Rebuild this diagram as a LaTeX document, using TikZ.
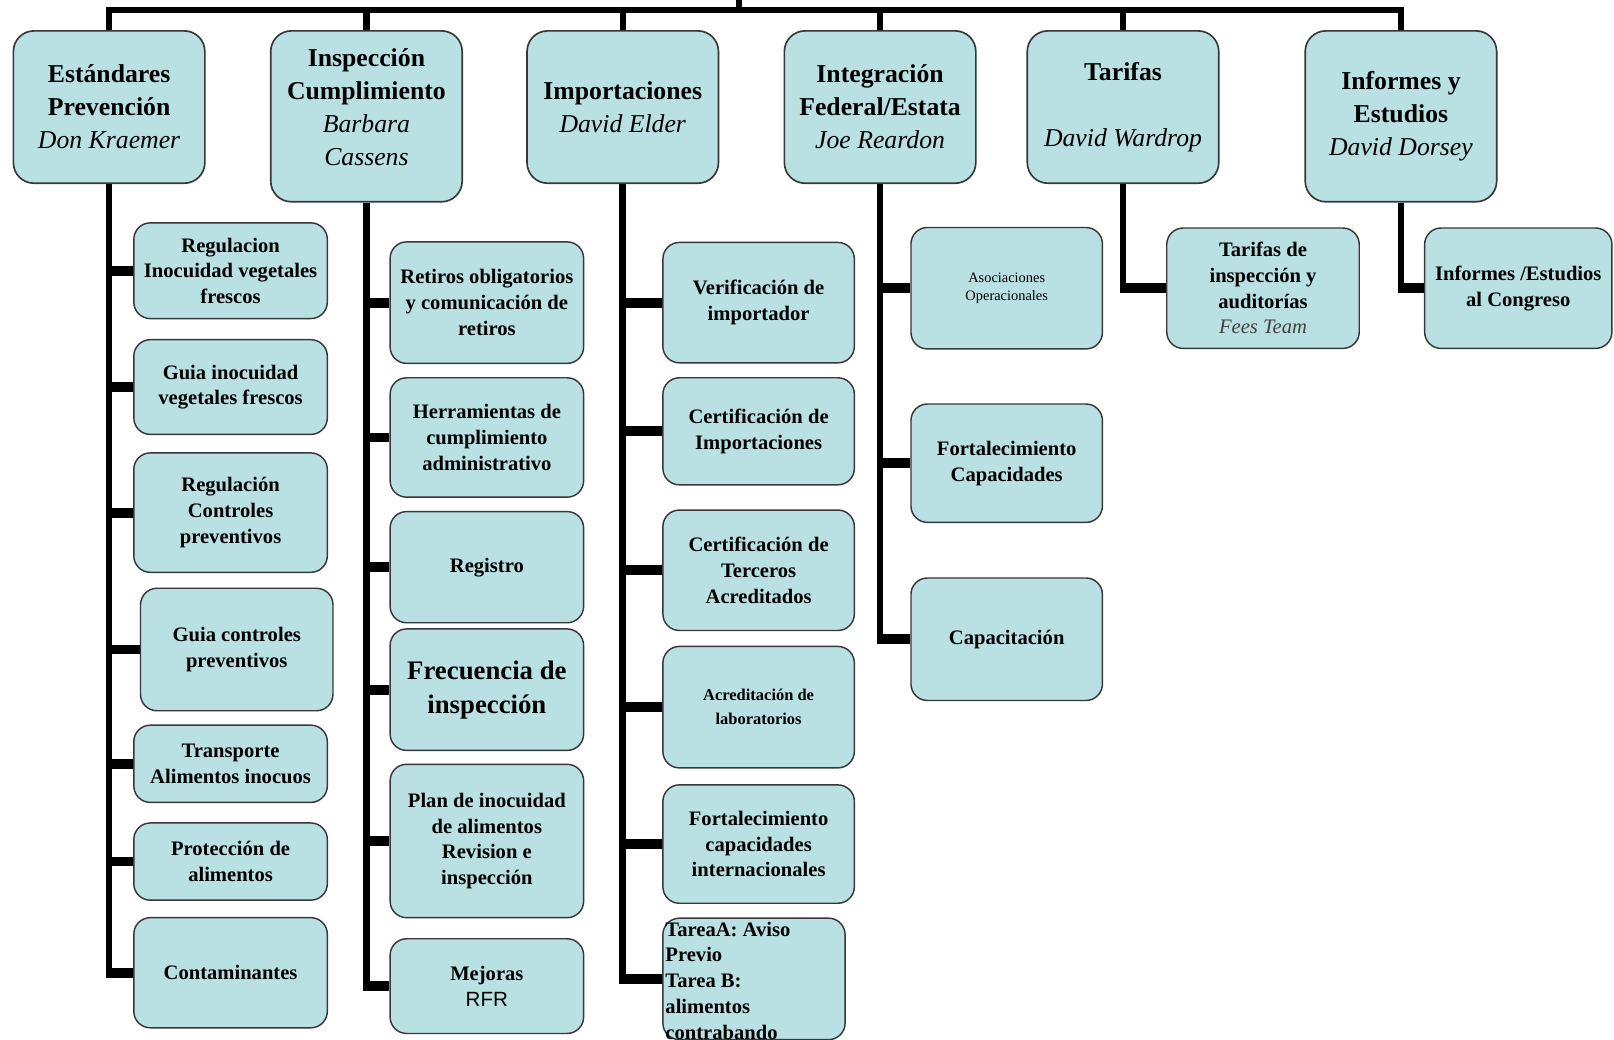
\documentclass[tikz,border=0pt]{standalone}
\usepackage{fontspec}
\setmainfont{Liberation Serif}
\setsansfont{Liberation Sans}
\usepackage{tikz}
\usetikzlibrary{positioning}
\definecolor{cajaazul}{RGB}{185,224,227}
\definecolor{bordegris}{RGB}{55,55,55}
\newcommand\persona[1]{{\mdseries\itshape #1}}

\begin{document}
\begin{tikzpicture}[x=1pt,y=-1pt,
  jefe/.style={draw=bordegris, line width=1.6pt, fill=cajaazul, rounded corners=20pt, align=center, inner sep=2pt, minimum width=186pt, minimum height=148pt, font=\fontsize{25}{32}\selectfont\bfseries},
  tarea/.style={draw=bordegris, line width=1.4pt, fill=cajaazul, rounded corners=16pt, align=center, inner sep=2pt, minimum width=188pt, font=\fontsize{20}{25}\selectfont\bfseries},
  barra/.style={line width=6pt},
  tronco/.style={line width=6.5pt, shorten >=-4.75pt},
  rama/.style={line width=9.5pt, shorten <=-3.25pt}]
\useasboundingbox (0,0) rectangle (1568,1010);

\node[jefe] (estandares) at (106,104) {Estándares\\Prevención\\\persona{Don Kraemer}};
\node[jefe, minimum height=166pt] (inspeccion) at (356,113) {Inspección\\Cumplimiento\\\persona{Barbara}\\\persona{Cassens}\\[-14pt]\mbox{}};
\node[jefe] (importaciones) at (605,104) {Importaciones\\\persona{David Elder}};
\node[jefe] (integracion) at (855,104) {Integración\\Federal/Estata\\\persona{Joe Reardon}};
\node[jefe] (tarifas) at (1091,104) {Tarifas\\[32pt]\persona{David Wardrop}};
\node[jefe, minimum height=166pt] (informes) at (1361,113) {Informes y\\Estudios\\\persona{David Dorsey}};

\node[tarea, minimum height=93pt] (regulacion) at (224,263) {Regulacion\\Inocuidad vegetales\\frescos};
\node[tarea, minimum height=92pt] (guiainocuidad) at (224,376) {Guia inocuidad\\vegetales frescos};
\node[tarea, minimum height=116pt] (controles) at (224,498) {Regulación\\Controles\\preventivos};
\node[tarea, minimum width=187pt, minimum height=119pt] (guiacontroles) at (230,631) {Guia controles\\preventivos};
\node[tarea, minimum height=75pt] (transporte) at (224,742) {Transporte\\Alimentos inocuos};
\node[tarea, minimum height=75pt] (proteccion) at (224,837) {Protección de\\alimentos};
\node[tarea, minimum height=107pt] (contaminantes) at (224,945) {Contaminantes};

\node[tarea, minimum height=118pt] (retiros) at (473,294) {Retiros obligatorios\\y comunicación de\\retiros};
\node[tarea, minimum height=116pt] (herramientas) at (473,425) {Herramientas de\\cumplimiento\\administrativo};
\node[tarea, minimum height=108pt] (registro) at (473,551) {Registro};
\node[tarea, minimum height=118pt, font=\fontsize{26}{33}\selectfont\bfseries] (frecuencia) at (473,670) {Frecuencia de\\inspección};
\node[tarea, minimum height=149pt] (plan) at (473,817) {Plan de inocuidad\\de alimentos\\Revision e\\inspección};
\node[tarea, minimum height=92pt] (mejoras) at (473,958) {Mejoras\\{\sffamily\mdseries RFR}};

\node[tarea, minimum width=186pt, minimum height=117pt] (verificacion) at (737,294) {Verificación de\\importador};
\node[tarea, minimum width=186pt, minimum height=104pt] (certimport) at (737,419) {Certificación de\\Importaciones};
\node[tarea, minimum width=186pt, minimum height=117pt] (terceros) at (737,554) {Certificación de\\Terceros\\Acreditados};
\node[tarea, minimum width=186pt, minimum height=118pt, font=\fontsize{16}{23}\selectfont\bfseries] (laboratorios) at (737,687) {Acreditación de\\laboratorios};
\node[tarea, minimum width=186pt, minimum height=115pt] (fortalint) at (737,820) {Fortalecimiento\\capacidades\\internacionales};
\node[tarea, minimum width=177pt, minimum height=118pt] (tareaab) at (732.5,951) {};
\node[anchor=north west, align=left, inner sep=0pt, font=\fontsize{20}{25}\selectfont\bfseries] (tareaabtexto) at ([xshift=3pt,yshift=-4pt]tareaab.north west) {TareaA: Aviso\\Previo\\Tarea B:\\alimentos\\contrabando};

\node[tarea, minimum width=186pt, minimum height=118pt, font=\fontsize{14}{17}\selectfont] (asociaciones) at (978,280) {Asociaciones\\Operacionales};
\node[tarea, minimum width=186pt, minimum height=115pt] (fortalcap) at (978,450) {Fortalecimiento\\Capacidades};
\node[tarea, minimum width=186pt, minimum height=119pt] (capacitacion) at (978,621) {Capacitación};

\node[tarea, minimum width=187pt, minimum height=117pt] (tarifasinsp) at (1227,280) {Tarifas de\\inspección y\\auditorías\\{\mdseries\itshape\color{black!75}Fees Team}};
\node[tarea, minimum width=182pt, minimum height=117pt] (congreso) at (1475,280) {Informes /Estudios\\al Congreso};

\coordinate (linea) at (0,10);
\coordinate (raiz) at (718,0);
\draw[barra] (estandares.north) |- (linea -| informes.north) -- (informes.north);
\draw[barra] (raiz) -- (raiz |- linea);
\draw[barra] (inspeccion.north) -- (inspeccion.north |- linea);
\draw[barra] (importaciones.north) -- (importaciones.north |- linea);
\draw[barra] (integracion.north) -- (integracion.north |- linea);
\draw[barra] (tarifas.north) -- (tarifas.north |- linea);

\draw[tronco] (estandares.south) -- (estandares.south |- contaminantes.west);
\draw[rama] (estandares.south |- regulacion.west) -- (regulacion.west);
\draw[rama] (estandares.south |- guiainocuidad.west) -- (guiainocuidad.west);
\draw[rama] (estandares.south |- controles.west) -- (controles.west);
\draw[rama] (estandares.south |- guiacontroles.west) -- (guiacontroles.west);
\draw[rama] (estandares.south |- transporte.west) -- (transporte.west);
\draw[rama] (estandares.south |- proteccion.west) -- (proteccion.west);
\draw[rama] (estandares.south |- contaminantes.west) -- (contaminantes.west);

\draw[tronco] (inspeccion.south) -- (inspeccion.south |- mejoras.west);
\draw[rama] (inspeccion.south |- retiros.west) -- (retiros.west);
\draw[rama] (inspeccion.south |- herramientas.west) -- (herramientas.west);
\draw[rama] (inspeccion.south |- registro.west) -- (registro.west);
\draw[rama] (inspeccion.south |- frecuencia.west) -- (frecuencia.west);
\draw[rama] (inspeccion.south |- plan.west) -- (plan.west);
\draw[rama] (inspeccion.south |- mejoras.west) -- (mejoras.west);

\draw[tronco] (importaciones.south) -- (importaciones.south |- tareaab.west);
\draw[rama] (importaciones.south |- verificacion.west) -- (verificacion.west);
\draw[rama] (importaciones.south |- certimport.west) -- (certimport.west);
\draw[rama] (importaciones.south |- terceros.west) -- (terceros.west);
\draw[rama] (importaciones.south |- laboratorios.west) -- (laboratorios.west);
\draw[rama] (importaciones.south |- fortalint.west) -- (fortalint.west);
\draw[rama] (importaciones.south |- tareaab.west) -- (tareaab.west);

\draw[tronco] (integracion.south) -- (integracion.south |- capacitacion.west);
\draw[rama] (integracion.south |- asociaciones.west) -- (asociaciones.west);
\draw[rama] (integracion.south |- fortalcap.west) -- (fortalcap.west);
\draw[rama] (integracion.south |- capacitacion.west) -- (capacitacion.west);

\draw[tronco] (tarifas.south) -- (tarifas.south |- tarifasinsp.west);
\draw[rama] (tarifas.south |- tarifasinsp.west) -- (tarifasinsp.west);

\draw[tronco] (informes.south) -- (informes.south |- congreso.west);
\draw[rama] (informes.south |- congreso.west) -- (congreso.west);
\end{tikzpicture}
\end{document}
